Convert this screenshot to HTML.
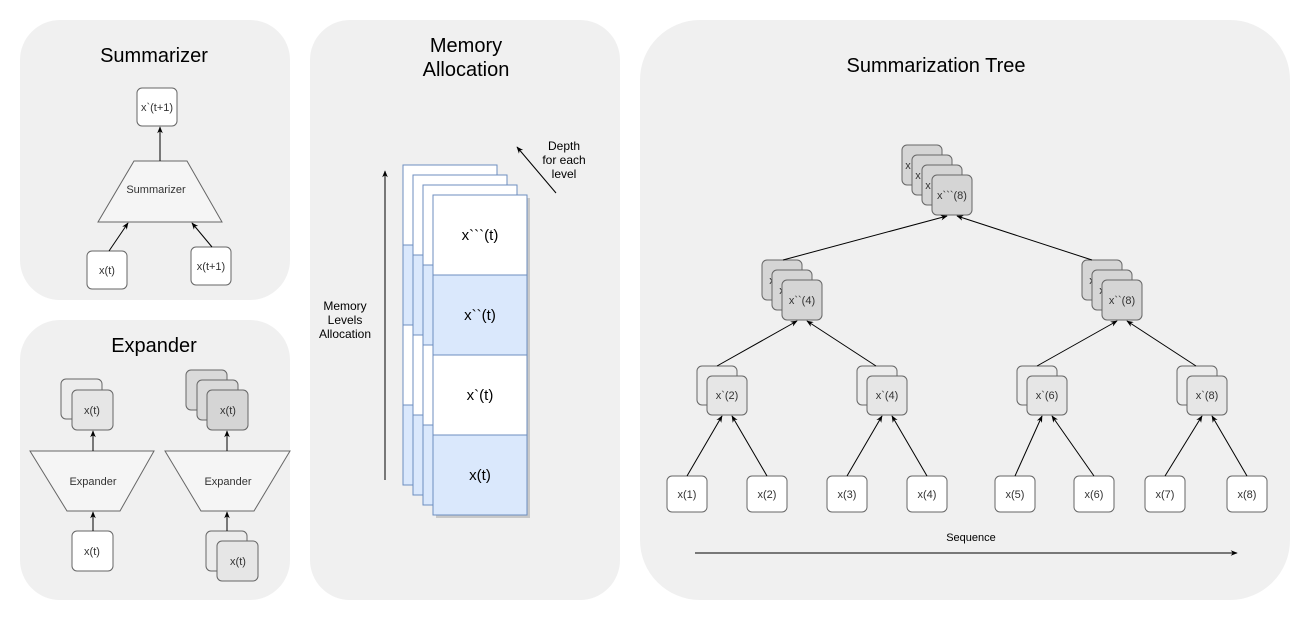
<!DOCTYPE html>
<html><head><meta charset="utf-8"><style>
html,body{margin:0;padding:0;background:#fff;}
svg{display:block;font-family:"Liberation Sans",Arial,sans-serif;}
</style></head><body>
<svg width="1311" height="621" viewBox="0 0 1311 621" xmlns="http://www.w3.org/2000/svg">
<defs>
<marker id="a" viewBox="0 0 10 10" refX="9" refY="5" markerWidth="7" markerHeight="7" orient="auto-start-reverse"><path d="M0,1 L10,5 L0,9 L3,5 z" fill="#000"/></marker>
</defs>
<rect width="1311" height="621" fill="#fff"/>
<rect x="20" y="20" width="270" height="280" rx="40" fill="#f0f0f0"/>
<rect x="20" y="320" width="270" height="280" rx="40" fill="#f0f0f0"/>
<rect x="310" y="20" width="310" height="580" rx="40" fill="#f0f0f0"/>
<rect x="640" y="20" width="650" height="580" rx="60" fill="#f0f0f0"/>

<g font-size="20" text-anchor="middle" fill="#000">
<text x="154" y="62">Summarizer</text>
<text x="154" y="352">Expander</text>
<text x="466" y="52">Memory</text>
<text x="466" y="76">Allocation</text>
<text x="936" y="72">Summarization Tree</text>
</g>

<g stroke="#666" stroke-width="1" font-size="11" text-anchor="middle">
<!-- Summarizer -->
<rect x="137" y="88" width="40" height="38" rx="5" fill="#fff"/>
<text x="157" y="111" stroke="none" fill="#333">x&#96;(t+1)</text>
<polygon points="134,161 187,161 222,222 98,222" fill="#f5f5f5"/>
<text x="156" y="193" stroke="none" fill="#333">Summarizer</text>
<rect x="87" y="251" width="40" height="38" rx="5" fill="#fff"/>
<text x="107" y="274" stroke="none" fill="#333">x(t)</text>
<rect x="191" y="247" width="40" height="38" rx="5" fill="#fff"/>
<text x="211" y="270" stroke="none" fill="#333">x(t+1)</text>

<!-- Expander left -->
<rect x="61" y="379" width="41" height="40" rx="5" fill="#ececec"/>
<rect x="72" y="390" width="41" height="40" rx="5" fill="#e6e6e6"/>
<text x="92" y="414" stroke="none" fill="#333">x(t)</text>
<polygon points="30,451 154,451 120,511 67,511" fill="#f5f5f5"/>
<text x="93" y="485" stroke="none" fill="#333">Expander</text>
<rect x="72" y="531" width="41" height="40" rx="5" fill="#fff"/>
<text x="92" y="555" stroke="none" fill="#333">x(t)</text>
<!-- Expander right -->
<rect x="186" y="370" width="41" height="40" rx="5" fill="#dadada"/>
<rect x="197" y="380" width="41" height="40" rx="5" fill="#dadada"/>
<rect x="207" y="390" width="41" height="40" rx="5" fill="#d5d5d5"/>
<text x="228" y="414" stroke="none" fill="#333">x(t)</text>
<polygon points="165,451 290,451 254,511 201,511" fill="#f5f5f5"/>
<text x="228" y="485" stroke="none" fill="#333">Expander</text>
<rect x="206" y="531" width="41" height="40" rx="5" fill="#ececec"/>
<rect x="217" y="541" width="41" height="40" rx="5" fill="#e6e6e6"/>
<text x="238" y="565" stroke="none" fill="#333">x(t)</text>
</g>
<g stroke="#000" stroke-width="1" fill="none" marker-end="url(#a)">
<line x1="160" y1="161" x2="160" y2="127"/>
<line x1="109" y1="251" x2="128" y2="223"/>
<line x1="212" y1="247" x2="192" y2="223"/>
<line x1="93" y1="451" x2="93" y2="431"/>
<line x1="93" y1="531" x2="93" y2="512"/>
<line x1="227" y1="451" x2="227" y2="431"/>
<line x1="227" y1="531" x2="227" y2="512"/>
</g>

<!-- Memory stack -->
<g stroke="#6c8ebf" stroke-width="1">
<g transform="translate(-30,-30)"><rect x="433" y="195" width="94" height="80" fill="#fff"/><rect x="433" y="275" width="94" height="80" fill="#dae8fc"/><rect x="433" y="355" width="94" height="80" fill="#fff"/><rect x="433" y="435" width="94" height="80" fill="#dae8fc"/></g>
<g transform="translate(-20,-20)"><rect x="433" y="195" width="94" height="80" fill="#fff"/><rect x="433" y="275" width="94" height="80" fill="#dae8fc"/><rect x="433" y="355" width="94" height="80" fill="#fff"/><rect x="433" y="435" width="94" height="80" fill="#dae8fc"/></g>
<g transform="translate(-10,-10)"><rect x="433" y="195" width="94" height="80" fill="#fff"/><rect x="433" y="275" width="94" height="80" fill="#dae8fc"/><rect x="433" y="355" width="94" height="80" fill="#fff"/><rect x="433" y="435" width="94" height="80" fill="#dae8fc"/></g>
<rect x="436" y="198" width="94" height="320" fill="#c8c8c8" stroke="none"/>
<rect x="433" y="195" width="94" height="80" fill="#fff"/><rect x="433" y="275" width="94" height="80" fill="#dae8fc"/><rect x="433" y="355" width="94" height="80" fill="#fff"/><rect x="433" y="435" width="94" height="80" fill="#dae8fc"/>
</g>
<g font-size="15" text-anchor="middle" fill="#000">
<text x="480" y="240">x&#96;&#96;&#96;(t)</text>
<text x="480" y="320">x&#96;&#96;(t)</text>
<text x="480" y="400">x&#96;(t)</text>
<text x="480" y="480">x(t)</text>
</g>
<g font-size="12" text-anchor="middle" fill="#000">
<text x="345" y="310">Memory</text>
<text x="345" y="324">Levels</text>
<text x="345" y="338">Allocation</text>
<text x="564" y="150">Depth</text>
<text x="564" y="164">for each</text>
<text x="564" y="178">level</text>
</g>
<g stroke="#000" stroke-width="1" fill="none" marker-end="url(#a)">
<line x1="385" y1="480" x2="385" y2="171"/>
<line x1="556" y1="193" x2="517" y2="147"/>
</g>

<!-- Tree -->
<g stroke="#666" stroke-width="1" font-size="11" text-anchor="middle">
<rect x="667" y="476" width="40" height="36" rx="5" fill="#fff"/><text x="687" y="498" stroke="none" fill="#333">x(1)</text>
<rect x="747" y="476" width="40" height="36" rx="5" fill="#fff"/><text x="767" y="498" stroke="none" fill="#333">x(2)</text>
<rect x="827" y="476" width="40" height="36" rx="5" fill="#fff"/><text x="847" y="498" stroke="none" fill="#333">x(3)</text>
<rect x="907" y="476" width="40" height="36" rx="5" fill="#fff"/><text x="927" y="498" stroke="none" fill="#333">x(4)</text>
<rect x="995" y="476" width="40" height="36" rx="5" fill="#fff"/><text x="1015" y="498" stroke="none" fill="#333">x(5)</text>
<rect x="1074" y="476" width="40" height="36" rx="5" fill="#fff"/><text x="1094" y="498" stroke="none" fill="#333">x(6)</text>
<rect x="1145" y="476" width="40" height="36" rx="5" fill="#fff"/><text x="1165" y="498" stroke="none" fill="#333">x(7)</text>
<rect x="1227" y="476" width="40" height="36" rx="5" fill="#fff"/><text x="1247" y="498" stroke="none" fill="#333">x(8)</text>

<rect x="697" y="366" width="40" height="39" rx="5" fill="#ececec"/><rect x="707" y="376" width="40" height="39" rx="5" fill="#e6e6e6"/><text x="727" y="399" stroke="none" fill="#333">x&#96;(2)</text>
<rect x="857" y="366" width="40" height="39" rx="5" fill="#ececec"/><rect x="867" y="376" width="40" height="39" rx="5" fill="#e6e6e6"/><text x="887" y="399" stroke="none" fill="#333">x&#96;(4)</text>
<rect x="1017" y="366" width="40" height="39" rx="5" fill="#ececec"/><rect x="1027" y="376" width="40" height="39" rx="5" fill="#e6e6e6"/><text x="1047" y="399" stroke="none" fill="#333">x&#96;(6)</text>
<rect x="1177" y="366" width="40" height="39" rx="5" fill="#ececec"/><rect x="1187" y="376" width="40" height="39" rx="5" fill="#e6e6e6"/><text x="1207" y="399" stroke="none" fill="#333">x&#96;(8)</text>

<rect x="762" y="260" width="40" height="40" rx="5" fill="#d5d5d5"/><text x="772" y="284" stroke="none" fill="#333">x</text>
<rect x="772" y="270" width="40" height="40" rx="5" fill="#d5d5d5"/><text x="782" y="294" stroke="none" fill="#333">x</text>
<rect x="782" y="280" width="40" height="40" rx="5" fill="#d5d5d5"/><text x="802" y="304" stroke="none" fill="#333">x&#96;&#96;(4)</text>
<rect x="1082" y="260" width="40" height="40" rx="5" fill="#d5d5d5"/><text x="1092" y="284" stroke="none" fill="#333">x</text>
<rect x="1092" y="270" width="40" height="40" rx="5" fill="#d5d5d5"/><text x="1102" y="294" stroke="none" fill="#333">x</text>
<rect x="1102" y="280" width="40" height="40" rx="5" fill="#d5d5d5"/><text x="1122" y="304" stroke="none" fill="#333">x&#96;&#96;(8)</text>

<rect x="902" y="145" width="40" height="40" rx="5" fill="#d5d5d5"/><text x="908" y="169" stroke="none" fill="#333">x</text>
<rect x="912" y="155" width="40" height="40" rx="5" fill="#d5d5d5"/><text x="918" y="179" stroke="none" fill="#333">x</text>
<rect x="922" y="165" width="40" height="40" rx="5" fill="#d5d5d5"/><text x="928" y="189" stroke="none" fill="#333">x</text>
<rect x="932" y="175" width="40" height="40" rx="5" fill="#d5d5d5"/><text x="952" y="199" stroke="none" fill="#333">x&#96;&#96;&#96;(8)</text>
</g>
<g stroke="#000" stroke-width="1" fill="none" marker-end="url(#a)">
<line x1="687" y1="476" x2="722" y2="416"/><line x1="767" y1="476" x2="732" y2="416"/>
<line x1="847" y1="476" x2="882" y2="416"/><line x1="927" y1="476" x2="892" y2="416"/>
<line x1="1015" y1="476" x2="1042" y2="416"/><line x1="1094" y1="476" x2="1052" y2="416"/>
<line x1="1165" y1="476" x2="1202" y2="416"/><line x1="1247" y1="476" x2="1212" y2="416"/>
<line x1="717" y1="366" x2="797" y2="321"/><line x1="876" y1="366" x2="807" y2="321"/>
<line x1="1037" y1="366" x2="1117" y2="321"/><line x1="1196" y1="366" x2="1127" y2="321"/>
<line x1="783" y1="260" x2="947" y2="216"/><line x1="1092" y1="260" x2="957" y2="216"/>
<line x1="695" y1="553" x2="1237" y2="553"/>
</g>
<text x="971" y="541" font-size="11" text-anchor="middle" fill="#000">Sequence</text>
</svg>
</body></html>
